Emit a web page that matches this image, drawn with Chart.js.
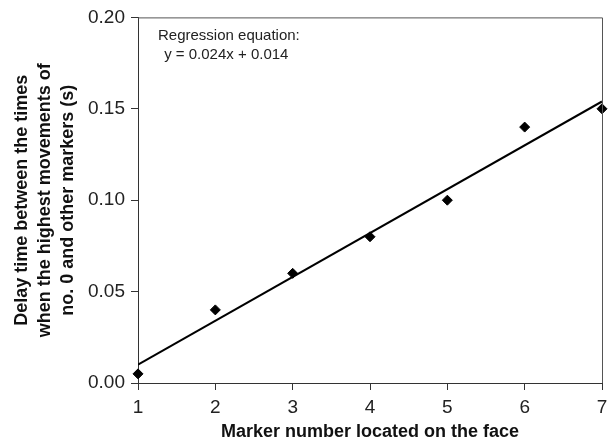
<!DOCTYPE html>
<html>
<head>
<meta charset="utf-8">
<script src="https://cdn.jsdelivr.net/npm/chart.js@4"></script>
<style>
  html, body { margin: 0; padding: 0; background: #fff; }
  #wrap { width: 614px; height: 446px; }
</style>
</head>
<body>
<div id="wrap"><canvas id="delayChart" width="614" height="446"></canvas></div>
<script>
// marker numbers and measured delay times (s)
const markers = [1, 2, 3, 4, 5, 6, 7];
const delays = [0.005, 0.040, 0.060, 0.080, 0.100, 0.140, 0.150];

// fitted line as drawn, endpoints at marker 1 and 7
const fitX = [1, 7];
const fitY = [0.010, 0.154];

const equationLines = ['Regression equation:', ' y = 0.024x + 0.014'];

const yTitle = [
  'Delay time between the times',
  'when the highest movements of',
  'no. 0 and other markers (s)'
];
const xTitle = 'Marker number located on the face';

const FONT = "Arial, 'Liberation Sans', Helvetica, sans-serif";

// frame around the plot + equation text
const framePlugin = {
  id: 'frame',
  afterDraw(chart) {
    const { ctx, chartArea: a } = chart;
    ctx.save();
    ctx.strokeStyle = '#555';
    ctx.lineWidth = 1;
    ctx.beginPath();
    ctx.moveTo(a.left, a.top + 0.5);
    ctx.lineTo(a.right + 0.5, a.top + 0.5);
    ctx.lineTo(a.right + 0.5, a.bottom);
    ctx.stroke();

    ctx.fillStyle = '#222';
    ctx.font = '15px ' + FONT;
    ctx.textBaseline = 'middle';
    ctx.textAlign = 'left';
    ctx.fillText(equationLines[0], a.left + 20, a.top + 18);
    ctx.fillText(equationLines[1], a.left + 22, a.top + 37);
    ctx.restore();
  }
};

const data = {
  datasets: [
    {
      type: 'scatter',
      label: 'Delay',
      data: markers.map((m, i) => ({ x: m, y: delays[i] })),
      pointStyle: 'rectRot',
      pointRadius: 5,
      pointBackgroundColor: '#000',
      pointBorderColor: '#000',
      pointBorderWidth: 1,
      clip: false,
      order: 0
    },
    {
      type: 'line',
      label: 'Fit',
      data: fitX.map((x, i) => ({ x: x, y: fitY[i] })),
      borderColor: '#000',
      borderWidth: 2,
      pointRadius: 0,
      fill: false,
      order: 1
    }
  ]
};

const config = {
  data,
  options: {
    responsive: false,
    animation: false,
    layout: { padding: { left: 0, top: 15, right: 12, bottom: 0 } },
    plugins: {
      legend: { display: false },
      tooltip: { enabled: false }
    },
    scales: {
      x: {
        type: 'linear',
        min: 1,
        max: 7,
        ticks: {
          stepSize: 1,
          color: '#222',
          font: { family: FONT, size: 19 },
          padding: 6,
          maxRotation: 0
        },
        grid: {
          drawOnChartArea: false,
          drawTicks: true,
          tickLength: 7,
          color: '#333'
        },
        border: { color: '#333', width: 1 },
        title: {
          display: true,
          text: xTitle,
          color: '#111',
          font: { family: FONT, size: 18, weight: 'bold' },
          padding: { top: 0, bottom: 3 }
        },
        afterFit(scale) { scale.height = 63; }
      },
      y: {
        type: 'linear',
        min: 0,
        max: 0.2,
        ticks: {
          stepSize: 0.05,
          color: '#222',
          font: { family: FONT, size: 19 },
          padding: 6,
          callback: (v) => v.toFixed(2)
        },
        grid: {
          drawOnChartArea: false,
          drawTicks: true,
          tickLength: 7,
          color: '#333'
        },
        border: { color: '#333', width: 1 },
        title: {
          display: true,
          text: yTitle,
          color: '#111',
          font: { family: FONT, size: 18, weight: 'bold', lineHeight: '23px' },
          padding: { top: 10.5, bottom: 0 }
        },
        afterFit(scale) { scale.width = 138; }
      }
    }
  },
  plugins: [framePlugin]
};

const canvas = document.getElementById('delayChart');
if (!canvas) {
  console.error('delayChart canvas not found');
} else {
  new Chart(canvas.getContext('2d'), config);
}
</script>
</body>
</html>
